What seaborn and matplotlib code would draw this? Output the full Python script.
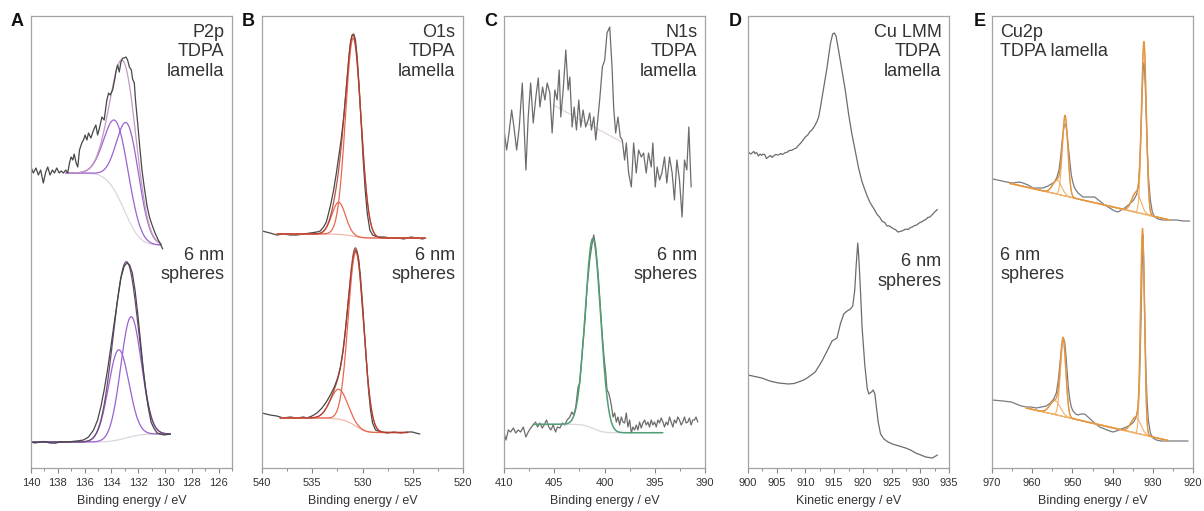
import numpy as np
import matplotlib
matplotlib.use("Agg")
import matplotlib.pyplot as plt
import seaborn as sns
from matplotlib.ticker import MultipleLocator

# ---------------- P2p ----------------
p2p_lam_be = [140.00, 139.83, 139.63, 139.45, 139.28, 139.08, 138.90, 138.75, 138.58, 138.40,
              138.25, 138.08, 137.90, 137.75, 137.58, 137.41, 137.26, 137.13, 137.01, 136.88,
              136.78, 136.63, 136.51, 136.38, 136.21, 136.08, 135.96, 135.83, 135.71, 135.53,
              135.33, 135.16, 135.03, 134.89, 134.71, 134.54, 134.34, 134.21, 134.09, 133.91,
              133.76, 133.64, 133.54, 133.41, 133.29, 133.16, 133.04, 132.91, 132.79, 132.66,
              132.51, 132.42, 132.29, 132.19, 132.04, 131.89, 131.72, 131.54, 131.34, 131.14,
              130.94, 130.74, 130.54, 130.34, 130.17]
p2p_lam_cts = [301, 295, 300, 293, 298, 285, 296, 301, 293, 298,
               295, 300, 295, 297, 295, 298, 295, 305, 311, 308,
               314, 305, 301, 318, 325, 328, 333, 328, 335, 330,
               338, 343, 333, 340, 351, 348, 368, 375, 373, 378,
               388, 398, 403, 396, 406, 410, 410, 411, 408, 401,
               398, 389, 385, 366, 345, 322, 298, 280, 262, 250,
               242, 235, 229, 224, 219]
p2p_sph_be = [140.00, 139.70, 139.33, 139.00, 138.58, 138.20, 137.83, 137.33, 136.58, 136.08,
              135.71, 135.33, 135.03, 134.79, 134.54, 134.29, 134.04, 133.79, 133.54, 133.29,
              133.04, 132.84, 132.64, 132.44, 132.24, 132.04, 131.84, 131.64, 131.44, 131.24,
              131.04, 130.84, 130.59, 130.34, 130.09, 129.60]
p2p_sph_cts = [26, 25, 26, 26.5, 25, 24.8, 26, 26, 27, 28,
               31, 38, 48, 61, 78, 98, 121, 145, 168, 190,
               202, 205, 203, 195, 178, 155, 128, 101, 78, 60,
               46, 40, 35, 34, 33, 34]
# fitted components: (centre eV, FWHM eV, height a.u.)
p2p_lam_peaks = [(132.72, 1.95, 94), (133.57, 2.1, 72)]
p2p_sph_peaks = [(132.54, 1.8, 120), (133.46, 1.8, 90)]
# fit window (high BE, low BE) and background level at each end
p2p_lam_window = (137.4, 130.3, 295, 223)
p2p_sph_window = (139.9, 129.6, 26, 34)

# ---------------- O1s ----------------
o1s_lam_be = [540.00, 539.20, 538.53, 537.87, 537.20, 536.53, 535.87, 535.20, 534.53, 534.20,
              533.87, 533.60, 533.37, 533.13, 532.87, 532.60, 532.37, 532.13, 531.87, 531.60,
              531.37, 531.20, 531.03, 530.87, 530.70, 530.53, 530.33, 530.13, 529.93, 529.73,
              529.53, 529.27, 529.00, 528.53, 527.87, 527.20, 526.53, 525.87, 525.20, 524.53,
              524.03, 523.70]
o1s_lam_cts = [237, 235, 233, 234, 233, 233, 234, 235, 236, 237,
               241, 246, 255, 265, 278, 295, 311, 328, 351, 381,
               408, 425, 433, 434, 428, 411, 381, 345, 308, 278,
               255, 238, 233, 231, 231, 230, 230, 229, 231, 230,
               229, 230]
o1s_sph_be = [540.00, 539.20, 538.53, 537.87, 537.20, 536.53, 535.87, 535.53, 535.03, 534.53,
              534.03, 533.60, 533.20, 532.80, 532.47, 532.20, 531.93, 531.70, 531.47, 531.27,
              531.07, 530.87, 530.70, 530.53, 530.37, 530.20, 530.00, 529.80, 529.60, 529.40,
              529.20, 529.00, 528.70, 528.20, 527.53, 526.87, 526.20, 525.53, 525.03, 524.70,
              524.30]
o1s_sph_cts = [55, 53, 52, 50, 51, 50, 51, 50, 52, 55,
               60, 66, 73, 81, 90, 101, 118, 138, 161, 181,
               200, 213, 218, 216, 208, 191, 165, 135, 105, 78,
               58, 45, 38, 36, 35, 36, 35, 36, 36, 35,
               34]
o1s_lam_peaks = [(530.92, 1.8, 198), (532.37, 1.6, 32)]
o1s_sph_peaks = [(530.65, 1.8, 174), (532.35, 2.0, 30)]
o1s_lam_window = (538.5, 523.8, 234, 230)
o1s_sph_window = (538.2, 525.5, 50, 35.5)

# ---------------- N1s ----------------
n1s_lam_be = [410.00, 409.74, 409.50, 409.24, 409.01, 408.74, 408.48, 408.18, 407.82, 407.59,
              407.35, 407.09, 406.83, 406.59, 406.43, 406.16, 405.93, 405.70, 405.44, 405.21,
              404.94, 404.71, 404.51, 404.35, 404.11, 403.85, 403.62, 403.45, 403.22, 403.02,
              402.79, 402.56, 402.36, 402.13, 401.87, 401.63, 401.47, 401.30, 401.07, 400.87,
              400.74, 400.48, 400.21, 399.98, 399.75, 399.48, 399.25, 399.09, 398.89, 398.66,
              398.43, 398.23, 398.00, 397.83, 397.60, 397.33, 397.10, 396.84, 396.61, 396.34,
              396.11, 395.85, 395.62, 395.35, 395.19, 394.95, 394.76, 394.52, 394.29, 394.03,
              393.80, 393.53, 393.27, 393.04, 392.80, 392.54, 392.28, 392.04, 391.81, 391.61,
              391.38]
n1s_lam_cts = [338, 318, 335, 358, 341, 318, 341, 385, 298, 351,
               385, 345, 371, 390, 361, 381, 368, 385, 375, 335,
               378, 368, 398, 351, 378, 418, 378, 391, 341, 361,
               338, 368, 341, 358, 341, 348, 355, 338, 351, 328,
               341, 368, 401, 408, 435, 441, 401, 361, 335, 351,
               331, 328, 308, 325, 295, 281, 325, 295, 318, 311,
               315, 295, 315, 301, 325, 281, 301, 288, 295, 311,
               285, 311, 295, 268, 308, 288, 251, 308, 298, 341,
               281]
n1s_lam_bg_be = [405.1, 398.3]
n1s_lam_bg_cts = [363, 326]
n1s_sph_be = [410.00, 409.80, 409.57, 409.34, 409.07, 408.84, 408.58, 408.35, 408.08, 407.82,
              407.59, 407.35, 407.09, 406.86, 406.66, 406.43, 406.20, 406.00, 405.77, 405.54,
              405.34, 405.11, 404.87, 404.68, 404.44, 404.18, 403.95, 403.72, 403.45, 403.25,
              403.06, 402.86, 402.63, 402.46, 402.20, 401.96, 401.73, 401.47, 401.24, 401.07,
              400.87, 400.64, 400.41, 400.21, 400.05, 399.88, 399.75, 399.58, 399.42, 399.29,
              399.15, 398.99, 398.82, 398.66, 398.49, 398.33, 398.16, 398.00, 397.83, 397.67,
              397.50, 397.33, 397.17, 397.00, 396.84, 396.67, 396.51, 396.34, 396.18, 396.01,
              395.85, 395.68, 395.52, 395.35, 395.19, 395.02, 394.85, 394.69, 394.52, 394.36,
              394.19, 394.03, 393.86, 393.70, 393.53, 393.37, 393.20, 393.04, 392.87, 392.71,
              392.54, 392.37, 392.21, 392.04, 391.88, 391.71, 391.55, 391.38, 391.22, 391.05,
              390.89, 390.72]
n1s_sph_cts = [35, 28, 38, 36, 40, 35, 38, 36, 41, 31,
               36, 40, 43, 46, 41, 45, 40, 43, 48, 41,
               38, 43, 36, 41, 40, 45, 43, 48, 51, 56,
               53, 61, 81, 85, 118, 145, 181, 208, 224, 233,
               221, 195, 161, 131, 111, 95, 78, 75, 68, 61,
               51, 55, 46, 51, 43, 51, 46, 45, 55, 41,
               48, 35, 41, 38, 43, 38, 46, 40, 45, 48,
               43, 46, 41, 48, 43, 46, 41, 48, 45, 50,
               46, 41, 46, 43, 51, 46, 41, 48, 45, 51,
               48, 43, 46, 51, 45, 46, 50, 43, 48, 48,
               51, 46]
n1s_sph_peaks = [(401.15, 1.8, 190)]
n1s_sph_window = (407.1, 394.2, 43.7, 35.3)

# ---------------- Cu LMM ----------------
lmm_lam_ke = [900.0, 900.5, 901.0, 901.22, 901.5, 901.8, 902.1, 902.39, 902.6, 902.9,
              903.2, 903.55, 903.9, 904.2, 904.43, 904.8, 905.3, 905.7, 906.0, 906.47,
              906.9, 907.2, 907.63, 908.0, 908.4, 908.8, 909.2, 909.6, 909.97, 910.4,
              910.8, 911.13, 911.6, 912.0, 912.3, 912.59, 913.17, 913.75, 914.34, 914.74,
              915.03, 915.33, 915.79, 916.38, 916.96, 917.54, 918.12, 918.71, 919.29, 919.87,
              920.3, 920.75, 921.2, 921.62, 922.0, 922.49, 922.9, 923.37, 923.8, 924.2,
              924.53, 925.0, 925.4, 925.7, 926.1, 926.57, 927.0, 927.45, 927.9, 928.3,
              928.61, 929.0, 929.4, 929.78, 930.2, 930.6, 930.94, 931.3, 931.7, 932.11,
              932.5, 932.98]
lmm_lam_cts = [316, 314, 316.5, 314.3, 315.5, 312, 314, 312.6, 313.8, 313.5,
               309.5, 311, 312.5, 310.5, 312, 313.5, 313, 314.5, 313.5, 315.3,
               316, 317.5, 317.7, 319, 320, 322.7, 325, 328, 331, 333,
               336.5, 337.9, 342, 346.4, 351, 360, 380, 400, 424, 434,
               435, 432, 417, 397, 377, 353, 333, 316, 299, 286,
               279, 272, 266, 262, 258.5, 253.5, 251, 246.7, 245.5, 242,
               242.3, 240.5, 239, 238.3, 236, 236.6, 237.5, 238.9, 238.5, 240.5,
               241, 242.5, 243, 245, 246, 247.5, 248.4, 250.5, 251, 253.5,
               256, 258.5]
lmm_sph_ke = [900.0, 901.2, 902.39, 903.8, 905.30, 906.2, 907.05, 908.0, 908.80, 909.7,
              910.55, 911.71, 912.88, 914.04, 914.63, 915.50, 916.08, 916.67, 917.25, 917.83,
              918.24, 918.59, 918.82, 919.11, 919.29, 919.58, 919.87, 920.34, 920.75, 921.04,
              921.50, 921.79, 922.09, 922.32, 922.67, 923.08, 923.66, 924.4, 925.12, 926.3,
              927.45, 928.3, 929.20, 930.1, 930.94, 932.11, 932.98]
lmm_sph_cts = [93, 91.5, 90, 87, 85, 84.5, 84, 84.5, 86, 88,
               91, 96, 107, 120, 127, 130, 144, 154, 157, 159,
               162, 178, 201, 225, 211, 178, 140, 103, 80, 74,
               76, 78, 74, 63, 46, 34, 29, 26, 24, 22,
               20, 18, 15, 13, 11, 10, 13]

# ---------------- Cu2p ----------------
cu2p_lam_be = [969.75, 966.43, 964.78, 963.12, 962.29, 961.04, 959.80, 958.56, 957.31, 956.07,
               955.24, 954.41, 953.83, 953.33, 952.92, 952.59, 952.34, 952.09, 951.84, 951.59,
               951.34, 951.01, 950.68, 950.27, 949.85, 949.44, 948.61, 947.36, 946.53, 945.70,
               944.46, 943.22, 941.97, 940.73, 939.49, 938.66, 937.83, 937.00, 935.76, 934.76,
               934.10, 933.60, 933.27, 932.94, 932.69, 932.44, 932.27, 932.11, 931.86, 931.61,
               931.36, 931.03, 930.61, 930.12, 929.54, 928.71, 927.46, 925.80, 924.15, 922.49,
               920.83]
cu2p_lam_cts = [289, 286, 285, 286, 285, 283, 280, 280, 280, 282,
                284, 286, 291, 298, 311, 325, 335, 341, 344, 342,
                335, 321, 308, 293, 285, 280, 275, 271, 271, 271,
                271, 267, 263, 260, 257, 256, 258, 260, 264, 268,
                273, 281, 301, 335, 368, 396, 405, 403, 381, 348,
                318, 288, 268, 256, 251, 249, 248, 248, 248, 247,
                247]
cu2p_sph_be = [969.92, 967.26, 965.19, 963.95, 962.70, 961.46, 960.22, 958.97, 957.73, 956.48,
               955.49, 954.66, 954.00, 953.50, 953.08, 952.75, 952.42, 952.17, 951.93, 951.67,
               951.34, 951.01, 950.68, 950.27, 949.85, 949.19, 948.61, 947.78, 946.95, 946.12,
               945.29, 944.46, 943.22, 941.97, 940.73, 939.90, 939.07, 937.83, 936.58, 935.59,
               934.76, 934.10, 933.68, 933.35, 933.10, 932.85, 932.69, 932.52, 932.44, 932.27,
               932.11, 931.94, 931.69, 931.44, 931.11, 930.61, 929.95, 929.12, 927.88, 926.22,
               924.56, 922.90, 921.24]
cu2p_sph_cts = [68, 67, 66, 64, 62, 61, 61, 60, 61, 62,
                65, 69, 75, 88, 105, 118, 127, 129, 126, 116,
                98, 81, 69, 61, 57, 54, 53, 54, 54, 51,
                48, 45, 41, 39, 37, 36, 37, 39, 41, 43,
                46, 51, 60, 81, 118, 165, 198, 221, 233, 208,
                178, 135, 95, 68, 48, 35, 30, 28, 27, 27,
                27, 27, 27]
cu2p_lam_peaks = [(932.2, 1.4, 168), (934.1, 2.6, 20), (951.8, 1.6, 78), (953.8, 2.6, 14)]
cu2p_sph_peaks = [(932.55, 1.15, 200), (934.2, 2.8, 16), (952.3, 1.6, 75), (954.3, 3.0, 14)]
cu2p_lam_window = (965.6, 925.8, 284.7, 248)
cu2p_sph_window = (961.5, 926.2, 60, 27.5)

panel_letters = ["A", "B", "C", "D", "E"]
upper_labels = ["P2p\nTDPA\nlamella", "O1s\nTDPA\nlamella", "N1s\nTDPA\nlamella",
                "Cu LMM\nTDPA\nlamella", "Cu2p\nTDPA lamella"]
lower_label = "6 nm\nspheres"
x_titles = ["Binding energy / eV", "Binding energy / eV", "Binding energy / eV",
            "Kinetic energy / eV", "Binding energy / eV"]


def fit_lines(window, peaks, background="shirley", n=700):
    """Return energy grid, background, component curves (on background) and envelope."""
    e_hi, e_lo, b_hi, b_lo = window
    e = np.linspace(e_hi, e_lo, n)
    comps = [h * np.exp(-4 * np.log(2) * ((e - c) / w) ** 2) for c, w, h in peaks]
    total = np.sum(comps, axis=0)
    if background == "shirley":
        order = np.argsort(e)
        cum = np.cumsum(total[order])
        frac = np.empty_like(cum)
        frac[order] = cum / cum[-1]
        bg = b_lo + (b_hi - b_lo) * frac
    else:
        bg = b_lo + (b_hi - b_lo) * (e - e_lo) / (e_hi - e_lo)
    return e, bg, [bg + c for c in comps], bg + total


def line(ax, x, y, **kw):
    sns.lineplot(x=np.asarray(x), y=np.asarray(y), ax=ax, sort=False,
                 estimator=None, **kw)


sns.set_theme(style="white")
plt.rcParams["font.family"] = ["Liberation Sans", "DejaVu Sans"]
plt.rcParams["axes.linewidth"] = 0.9

fig = plt.figure(figsize=(12.04, 5.11), dpi=100)
W, H = 1204, 511
lefts = [31, 262, 504, 748, 992]
axes = [fig.add_axes([l / W, 43 / H, 201 / W, 452 / H]) for l in lefts]

dark = "#474747"
grey = "#6c6c6c"

# ---- A: P2p ----
ax = axes[0]
pur, pur_env, pur_bg = "#9b62d2", "#c39ac4", "#ddd3e2"
for be, cts, win, pk, env_col in [(p2p_lam_be, p2p_lam_cts, p2p_lam_window, p2p_lam_peaks, pur_env),
                                  (p2p_sph_be, p2p_sph_cts, p2p_sph_window, p2p_sph_peaks, "#6e4a78")]:
    e, bg, comps, env = fit_lines(win, pk)
    line(ax, e, bg, color=pur_bg, linewidth=0.9)
    for c in comps:
        line(ax, e, c, color=pur, linewidth=0.9)
    line(ax, e, env, color=env_col, linewidth=0.9)
    line(ax, be, cts, color=dark, linewidth=0.9)

# ---- B: O1s ----
ax = axes[1]
red, red_env, red_bg = "#e8674f", "#a8372b", "#f2b9ae"
for be, cts, win, pk in [(o1s_lam_be, o1s_lam_cts, o1s_lam_window, o1s_lam_peaks),
                         (o1s_sph_be, o1s_sph_cts, o1s_sph_window, o1s_sph_peaks)]:
    e, bg, comps, env = fit_lines(win, pk)
    line(ax, be, cts, color=dark, linewidth=0.9)
    line(ax, e, bg, color=red_bg, linewidth=0.9)
    for c in comps:
        line(ax, e, c, color=red, linewidth=0.9)
    line(ax, e, env, color=red_env, linewidth=0.9, alpha=0.85)

# ---- C: N1s ----
ax = axes[2]
line(ax, n1s_lam_bg_be, n1s_lam_bg_cts, color="#e6d3d4", linewidth=0.9)
line(ax, n1s_lam_be, n1s_lam_cts, color=grey, linewidth=0.9)
e, bg, comps, env = fit_lines(n1s_sph_window, n1s_sph_peaks)
line(ax, n1s_sph_be, n1s_sph_cts, color=grey, linewidth=0.9)
line(ax, e, bg, color="#dcd6d6", linewidth=0.9)
line(ax, e, env, color="#4f9e74", linewidth=1.1)

# ---- D: Cu LMM ----
ax = axes[3]
line(ax, lmm_lam_ke, lmm_lam_cts, color=grey, linewidth=0.9)
line(ax, lmm_sph_ke, lmm_sph_cts, color=grey, linewidth=0.9)

# ---- E: Cu2p ----
ax = axes[4]
org, org_env, org_bg = "#f2b06a", "#e3963f", "#eaa75c"
for be, cts, win, pk in [(cu2p_lam_be, cu2p_lam_cts, cu2p_lam_window, cu2p_lam_peaks),
                         (cu2p_sph_be, cu2p_sph_cts, cu2p_sph_window, cu2p_sph_peaks)]:
    e, bg, comps, env = fit_lines(win, pk, background="linear")
    line(ax, be, cts, color="#787b82", linewidth=0.9)
    line(ax, e, bg, color=org_bg, linewidth=1.3, linestyle=(0, (0.8, 1.6)))
    for c in comps:
        line(ax, e, c, color=org, linewidth=0.8)
    line(ax, e, env, color=org_env, linewidth=1.0)

# ---- axes styling ----
xlims = [(140, 125), (540, 520), (410, 390), (900, 935), (970, 920)]
majors = [2, 5, 5, 5, 10]
for i, ax in enumerate(axes):
    ax.set_xlim(*xlims[i])
    ax.set_ylim(0, 452)
    ax.xaxis.set_major_locator(MultipleLocator(majors[i]))
    ax.xaxis.set_minor_locator(MultipleLocator(majors[i] / 2))
    ax.set_yticks([])
    ax.set_ylabel("")
    ax.set_xlabel(x_titles[i], fontsize=9, color="#333333", labelpad=5)
    ax.tick_params(axis="x", which="major", direction="out", length=3.5, width=0.8,
                   color="#888888", labelsize=8, labelcolor="#333333", pad=3.5, bottom=True)
    ax.tick_params(axis="x", which="minor", direction="out", length=2, width=0.7,
                   color="#888888", bottom=True)
    for s in ax.spines.values():
        s.set_color("#a3a3a3")
        s.set_linewidth(0.9)
    if i < 4:
        ax.text(0.963, 0.983, upper_labels[i], transform=ax.transAxes, ha="right", va="top",
                fontsize=13, color="#333333", linespacing=1.2)
        ax.text(0.963, 0.49 if i != 3 else 0.475, lower_label, transform=ax.transAxes,
                ha="right", va="top", fontsize=13, color="#333333", linespacing=1.2)
    else:
        ax.text(0.04, 0.983, upper_labels[i], transform=ax.transAxes, ha="left", va="top",
                fontsize=13, color="#333333", linespacing=1.2)
        ax.text(0.04, 0.49, lower_label, transform=ax.transAxes, ha="left", va="top",
                fontsize=13, color="#333333", linespacing=1.2)

letter_x = [11, 242, 484, 729, 974]
for lx, letter in zip(letter_x, panel_letters):
    fig.text(lx / W, 1 - 13 / H, letter, ha="left", va="top", fontsize=13,
             fontweight="bold", color="#111111")

fig.savefig("out.png", dpi=100)
